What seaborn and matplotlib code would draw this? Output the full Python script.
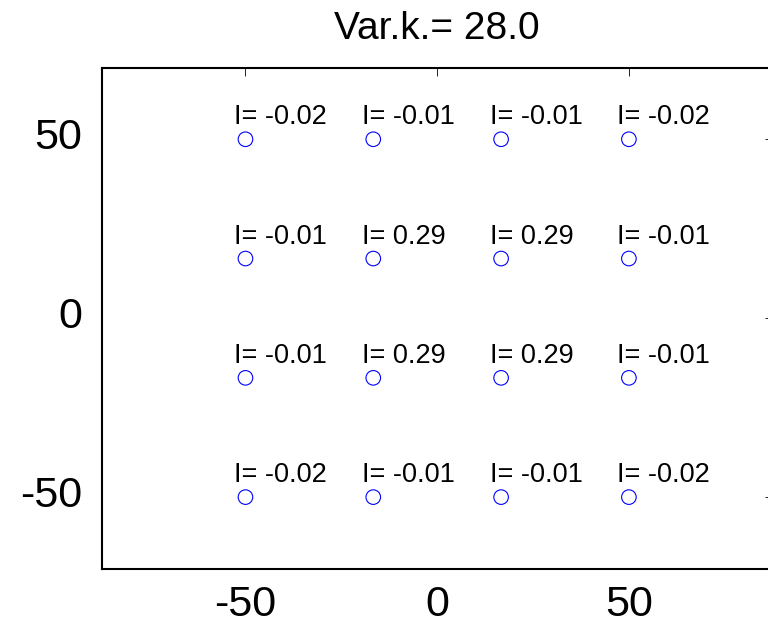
import matplotlib
matplotlib.use("Agg")
import matplotlib.pyplot as plt
import matplotlib.transforms as mtransforms
import seaborn as sns
import pandas as pd

# Grid of sample positions and their I values (rows listed top to bottom)
x_positions = [-50.0, -16.67, 16.67, 50.0]
y_positions = [50.0, 16.67, -16.67, -50.0]
i_values = [
    [-0.02, -0.01, -0.01, -0.02],
    [-0.01, 0.29, 0.29, -0.01],
    [-0.01, 0.29, 0.29, -0.01],
    [-0.02, -0.01, -0.01, -0.02],
]
title_text = "Var.k.= 28.0"
x_ticks = [-50, 0, 50]
y_ticks = [-50, 0, 50]

rows = []
for r, yv in enumerate(y_positions):
    for c, xv in enumerate(x_positions):
        rows.append({"x": xv, "y": yv, "I": i_values[r][c]})
df = pd.DataFrame(rows)

sns.set_style("white")
plt.rcParams["font.family"] = ["Liberation Sans", "DejaVu Sans"]
plt.rcParams["text.color"] = "black"
plt.rcParams["xtick.color"] = "black"
plt.rcParams["ytick.color"] = "black"
plt.rcParams["xtick.labelcolor"] = "black"
plt.rcParams["ytick.labelcolor"] = "black"

fig = plt.figure(figsize=(7.68, 6.25), dpi=100)
ax = fig.add_axes([0.1324, 0.0901, 0.8737, 0.8016])

sns.scatterplot(data=df, x="x", y="y", ax=ax, marker="o", s=110,
                facecolor="none", edgecolor=(0, 0, 1), linewidth=0.8,
                legend=False)

for _, row in df.iterrows():
    ax.text(row["x"] - 3.0, row["y"] + 4.2, f"I= {row['I']:.2f}",
            ha="left", va="baseline", fontsize=19.5, color="black")

ax.set_xlim(-87.5, 87.5)
ax.set_ylim(-70, 70)
ax.set_xticks(x_ticks)
ax.set_yticks(y_ticks)
ax.set_xticklabels([str(t) for t in x_ticks])
ax.set_yticklabels([str(t) for t in y_ticks])
ax.set_xlabel("")
ax.set_ylabel("")
ax.tick_params(axis="both", direction="in", length=6, width=0.6,
               labelsize=31, top=True, right=True, color="black",
               labelcolor="black")
ax.tick_params(axis="x", pad=12)
ax.tick_params(axis="y", pad=14)

# nudge the y tick labels up a little so the digits sit centred on the ticks
shift = mtransforms.ScaledTranslation(0, 4 / 72, fig.dpi_scale_trans)
for lbl in ax.get_yticklabels():
    lbl.set_transform(lbl.get_transform() + shift)

for sp in ax.spines.values():
    sp.set_visible(True)
    sp.set_color("black")
    sp.set_linewidth(1.5)

ax.set_title(title_text, fontsize=28, pad=21, color="black")

fig.savefig("out.png", dpi=100)
